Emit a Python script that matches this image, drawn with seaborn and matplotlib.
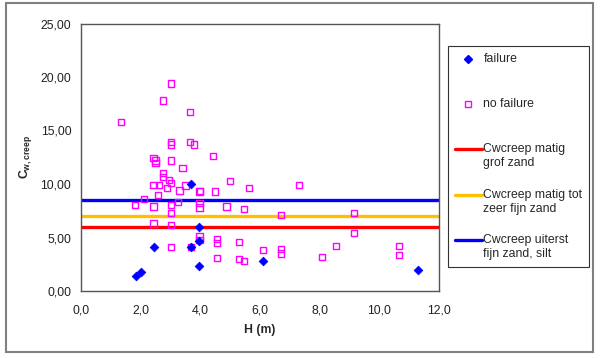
import seaborn as sns
import matplotlib.pyplot as plt
from matplotlib.lines import Line2D
from matplotlib.patches import Rectangle
from matplotlib.legend_handler import HandlerLine2D

# failure points (H in m, Cw,creep)
failure_h = [1.84, 2.0, 2.45, 3.68, 3.68, 3.97, 3.97, 3.97, 6.09, 11.3]
failure_c = [1.4, 1.75, 4.15, 4.1, 10.0, 5.95, 4.7, 2.35, 2.8, 2.0]

# no failure points
nofail_h = [1.34, 2.74, 3.02, 3.66, 3.02, 3.02, 3.66, 3.8, 4.43, 2.43,
            2.5, 2.5, 3.02, 3.4, 2.76, 2.76, 2.43, 2.62, 2.96, 3.02,
            2.87, 3.3, 3.5, 2.57, 3.97, 4.0, 4.49, 5.0, 5.63, 7.31,
            1.82, 2.11, 2.43, 3.02, 3.26, 3.97, 3.97, 4.88, 5.47, 3.02,
            6.7, 9.16, 2.43, 3.02, 9.16, 3.97, 3.97, 4.55, 4.55, 5.3,
            3.02, 3.68, 6.09, 6.7, 6.7, 8.55, 8.08, 10.67, 10.67, 4.55,
            5.3, 5.47]
nofail_c = [15.8, 17.8, 19.4, 16.7, 13.95, 13.7, 13.95, 13.7, 12.65, 12.4,
            12.2, 11.95, 12.2, 11.5, 11.0, 10.65, 9.9, 9.9, 10.4, 10.1,
            9.65, 9.4, 9.85, 9.0, 9.3, 9.35, 9.3, 10.25, 9.6, 9.9,
            8.05, 8.6, 7.9, 8.05, 8.3, 8.2, 7.8, 7.9, 7.65, 7.3,
            7.1, 7.3, 6.3, 6.2, 5.45, 5.1, 4.8, 4.85, 4.5, 4.55,
            4.1, 4.1, 3.83, 3.9, 3.5, 4.2, 3.15, 4.2, 3.4, 3.1,
            3.0, 2.8]

# Cwcreep levels
levels = [6.0, 7.0, 8.5]
level_labels = ['Cwcreep matig\ngrof zand',
                'Cwcreep matig tot\nzeer fijn zand',
                'Cwcreep uiterst\nfijn zand, silt']
level_colors = ['#ff0000', '#ffc000', '#0000ff']

x_ticks = [0, 2, 4, 6, 8, 10, 12]
y_ticks = [0, 5, 10, 15, 20, 25]

sns.set_style('white')
plt.rcParams['font.family'] = ['Liberation Sans', 'DejaVu Sans']
plt.rcParams['font.size'] = 8.8
plt.rcParams['mathtext.fontset'] = 'custom'
plt.rcParams['mathtext.bf'] = 'Liberation Sans:bold'
plt.rcParams['mathtext.rm'] = 'Liberation Sans'

fig = plt.figure(figsize=(6, 3.58), dpi=100)
ax = fig.add_axes([81 / 600, 1 - 291 / 358, 358 / 600, 267.5 / 358])

for lv, col in zip(levels, level_colors):
    ax.axhline(lv, color=col, lw=2.4, zorder=1)

sns.scatterplot(x=nofail_h, y=nofail_c, marker='s', s=20, facecolor='none',
                edgecolor='#ff00ff', linewidth=1.0, ax=ax, zorder=3)
sns.scatterplot(x=failure_h, y=failure_c, marker='D', s=20, color='#0000ff',
                edgecolor='#0000ff', linewidth=0.5, ax=ax, zorder=4)

ax.set_xlim(0, 12)
ax.set_ylim(0, 25)
ax.set_xticks(x_ticks)
ax.set_yticks(y_ticks)
ax.set_xticklabels([f'{v:.1f}'.replace('.', ',') for v in x_ticks])
ax.set_yticklabels([f'{v:.2f}'.replace('.', ',') for v in y_ticks])
ax.tick_params(direction='out', length=4, width=1, color='#555555',
               labelcolor='#222222')
ax.tick_params(axis='x', pad=6)
ax.tick_params(axis='y', pad=3)
for sp in ax.spines.values():
    sp.set_visible(True)
    sp.set_color('#555555')
    sp.set_linewidth(1.0)

ax.set_xlabel('H (m)', fontweight='bold', labelpad=5)
ax.set_ylabel(r'$\mathbf{C}_{\mathbf{w,creep}}$', labelpad=5)


class FirstLineHandler(HandlerLine2D):
    # put the handle next to the first text line, as in the original
    def create_artists(self, legend, orig_handle, xdescent, ydescent,
                       width, height, fontsize, trans):
        return super().create_artists(legend, orig_handle, xdescent,
                                      ydescent - 1.2 * fontsize, width,
                                      height, fontsize, trans)


handles = [Line2D([], [], marker='D', color='#0000ff', linestyle='', markersize=4),
           Line2D([], [], marker='s', markerfacecolor='none', markeredgecolor='#ff00ff',
                  markeredgewidth=1.0, linestyle='', markersize=4.5)]
handles += [Line2D([], [], color=c, lw=2.4) for c in level_colors]
labels = ['failure\n', 'no failure\n'] + level_labels

leg = ax.legend(handles, labels, loc='upper left',
                bbox_to_anchor=(448 / 600, 1 - 46 / 358),
                bbox_transform=fig.transFigure, frameon=True, fancybox=False,
                edgecolor='#333333', framealpha=1, borderpad=0.55,
                labelspacing=1.6, handlelength=2.2, handletextpad=0.15,
                borderaxespad=0, handler_map={Line2D: FirstLineHandler()})
leg.get_frame().set_linewidth(0.8)

fig.patches.append(Rectangle((6 / 600, 1 - 352 / 358), 587 / 600, 349 / 358,
                             transform=fig.transFigure, fill=False,
                             edgecolor='#808080', lw=1.5))

fig.savefig('out.png', dpi=100)
